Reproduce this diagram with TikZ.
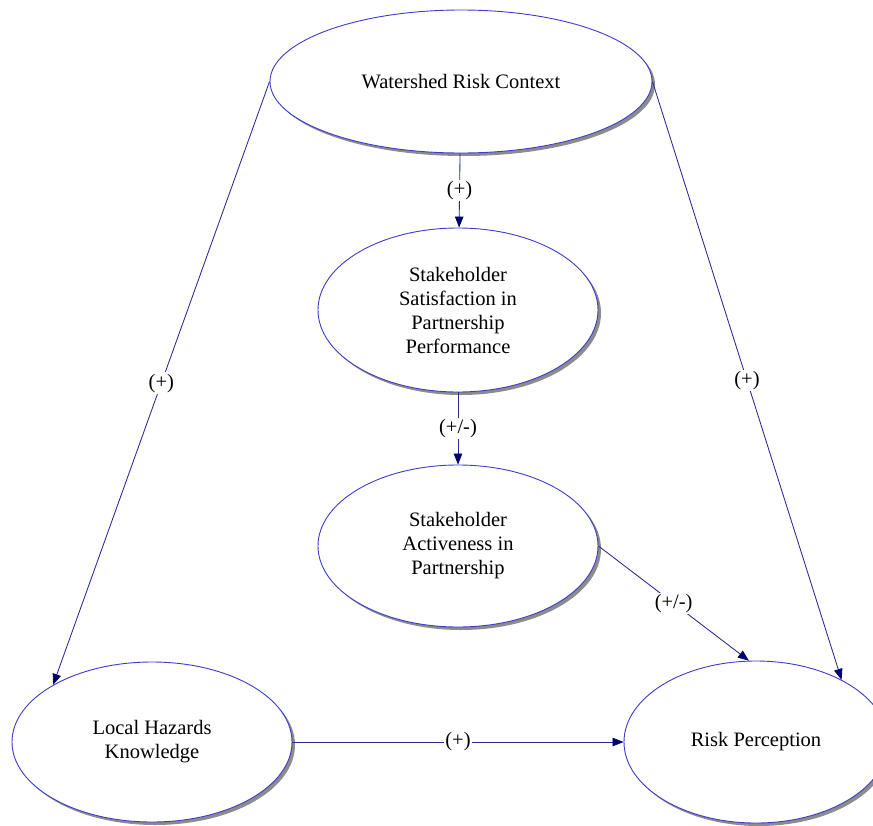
\documentclass[tikz,border=0pt]{standalone}
\usepackage{fontspec}
\setmainfont{Liberation Serif}
\usetikzlibrary{shapes.geometric,arrows.meta,shadows}
\definecolor{ellblue}{RGB}{60,60,205}
\definecolor{edgeblue}{RGB}{40,40,145}
\definecolor{tipnavy}{RGB}{0,0,110}
\tikzset{
  concept/.style={ellipse, draw=ellblue, line width=0.9pt, fill=white, inner sep=0pt,
    align=center, font=\fontsize{20.5}{24}\selectfont,
    drop shadow={shadow xshift=3pt, shadow yshift=-3pt, fill=black!60, opacity=0.75}},
  link/.style={draw=edgeblue, line width=0.85pt,
    -{Triangle[length=11pt, width=8.5pt, color=tipnavy]}},
  sign/.style={fill=white, inner sep=1.5pt, font=\fontsize{20.5}{24}\selectfont}
}
\begin{document}
\begin{tikzpicture}[x=1pt, y=-1pt]
  \useasboundingbox (0,0) rectangle (873,825);
  \fill[white] (0,0) rectangle (873,825);
  \clip (0,0) rectangle (873,825);

  % concepts
  \node[concept, minimum width=382pt, minimum height=143pt] (ws) at (461,81.5) {Watershed Risk Context};
  \node[concept, minimum width=280pt, minimum height=164pt] (sat) at (458,310) {Stakeholder\\Satisfaction in\\Partnership\\Performance};
  \node[concept, minimum width=280pt, minimum height=162pt] (act) at (458,546) {Stakeholder\\Activeness in\\Partnership};
  \node[concept, minimum width=280pt, minimum height=160pt] (lh) at (152,742) {Local Hazards\\Knowledge};
  \node[concept, minimum width=264pt, minimum height=162pt] (rp) at (756,742) {Risk Perception};

  % causal links
  \draw[link] (ws) -- node[sign] {(+)} (sat);
  \draw[link] (sat) -- node[sign] {(+/-)} (act);
  \draw[link] (act.east) -- node[sign] {(+/-)} (rp.95);
  \draw[link] (ws.west) -- node[sign] {(+)} (lh.150);
  \draw[link] (ws.east) -- node[sign] {(+)} (rp.36);
  \draw[link] (lh.east) -- node[sign] {(+)} (rp.west);
\end{tikzpicture}
\end{document}
